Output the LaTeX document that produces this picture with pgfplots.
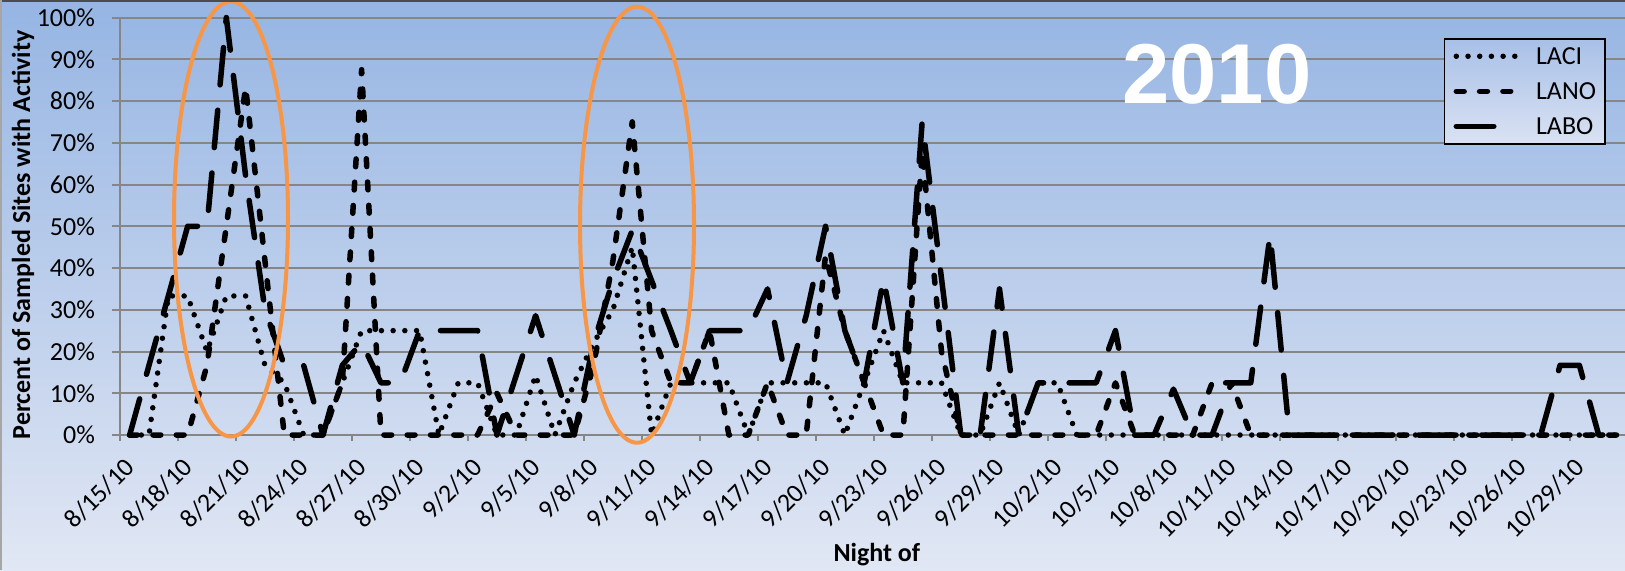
\documentclass[border=0pt]{standalone}
\usepackage{pgfplots}
\usepackage{pgfplotstable}
\pgfplotsset{compat=1.18}
\usepackage{fontspec}
\setmainfont{Carlito}
\newfontfamily\arialfont{Liberation Sans}
\definecolor{bgtop}{RGB}{150,181,227}
\definecolor{bgmid}{RGB}{192,208,236}
\definecolor{bgbot}{RGB}{225,231,244}
\definecolor{gridgray}{RGB}{134,134,134}
\definecolor{ellorange}{RGB}{247,150,70}
\definecolor{legtop}{RGB}{168,192,231}
\definecolor{legbot}{RGB}{218,226,243}

% day index 0 = 8/15/10 ... 77 = 10/31/10 ; values in percent
\pgfplotstableread{
d laci lano labo
0 0 0 0
1 0 0 16.7
2 33.3 0 33.3
3 33.3 0 50
4 20 16.7 50
5 33.3 50 100
6 33.3 83.3 62
7 16.7 41.7 30
8 12.5 0 16.7
9 0 0 16.7
10 0 0 0
11 12.5 12.5 16.7
12 25 87.5 22.2
13 25 0 12.5
14 25 0 12.5
15 25 0 25
16 0 0 25
17 12.5 0 25
18 12.5 0 25
19 0 10 0
20 0 0 14.3
21 14.3 0 28.6
22 0 0 14.3
23 12.5 0 0
24 22 16.7 22
25 30 41.7 37
26 45 75 49
27 0 25 37
28 12.5 12.5 25
29 12.5 12.5 12.5
30 12.5 25 25
31 12.5 0 25
32 0 0 25
33 12.5 12.5 35
34 12.5 0 12.5
35 12.5 0 28.6
36 12.5 43 50
37 0 25 25
38 12.5 12.5 12.5
39 25 0 37.5
40 12.5 0 12.5
41 12.5 68 75
42 12.5 20 37.5
43 0 0 0
44 0 0 0
45 12.5 0 35
46 0 0 0
47 12.5 0 12.5
48 12.5 0 12.5
49 0 0 12.5
50 0 0 12.5
51 0 12.5 25
52 0 0 0
53 0 0 0
54 0 0 11
55 0 0 0
56 0 12.5 0
57 0 12.5 12.5
58 0 0 12.5
59 0 0 48
60 0 0 0
61 0 0 0
62 0 0 0
63 0 0 0
64 0 0 0
65 0 0 0
66 0 0 0
67 0 0 0
68 0 0 0
69 0 0 0
70 0 0 0
71 0 0 0
72 0 0 0
73 0 0 0
74 0 0 16.7
75 0 0 16.7
76 0 0 0
77 0 0 0
}\bats

\begin{document}
\begin{tikzpicture}
\shade[top color=bgtop, middle color=bgmid, bottom color=bgbot] (0,0) rectangle (812.5pt,285pt);
\begin{axis}[
  at={(60pt,67.5pt)}, anchor=south west,
  scale only axis, width=753.85pt, height=208.75pt,
  xmin=-0.5, xmax=77.5, ymin=0, ymax=100,
  clip=false,
  axis lines*=left,
  axis line style={gridgray, line width=1pt},
  ymajorgrids, grid style={gridgray, line width=1pt},
  ytick={0,10,...,100},
  yticklabels={0\%,10\%,20\%,30\%,40\%,50\%,60\%,70\%,80\%,90\%,100\%},
  xtick={0,3,...,75},
  xticklabels={8/15/10,8/18/10,8/21/10,8/24/10,8/27/10,8/30/10,9/2/10,9/5/10,9/8/10,9/11/10,9/14/10,9/17/10,9/20/10,9/23/10,9/26/10,9/29/10,10/2/10,10/5/10,10/8/10,10/11/10,10/14/10,10/17/10,10/20/10,10/23/10,10/26/10,10/29/10},
  minor xtick={-0.5,2.5,...,77.5},
  tick align=outside,
  major tick length=4pt,
  minor tick length=3pt,
  major x tick style={draw=none},
  minor x tick style={gridgray, line width=1pt},
  ytick style={gridgray, line width=1pt},
  /pgf/number format/assume math mode=true,
  tick label style={font=\fontsize{13}{15}\selectfont, text=black},
  yticklabel style={xshift=-5pt},
  xticklabel style={xshift=2.5pt, yshift=-7.5pt, rotate=45, anchor=east},
  xlabel={Night of},
  ylabel={Percent of Sampled Sites with Activity},
  label style={font=\bfseries\fontsize{13}{15}\selectfont},
  xlabel style={at={(axis description cs:0.502,-0.2874)}, anchor=center},
  ylabel style={at={(axis description cs:-0.0643,0.479)}, anchor=center},
  legend cell align=left,
  legend style={at={(0.878,0.951)}, anchor=north west, draw=black, line width=0.8pt,
    top color=legtop, bottom color=legbot,
    inner xsep=4.5pt, inner ysep=4.5pt, row sep=9pt,
    font=\fontsize{13}{15}\selectfont,
    nodes={inner sep=0pt, text height=8.5pt, text depth=0pt},
    /tikz/every odd column/.append style={column sep=7.5pt}},
  legend image code/.code={\draw[#1] (0pt,0pt) -- (31pt,0pt);},
]
\addplot[black, line width=2.75pt, line cap=round, line join=round, dash pattern=on 0pt off 5.85pt] table[x=d, y=laci] {\bats};
\addlegendentry{LACI}
\addplot[black, line width=2.75pt, line cap=round, line join=round, dash pattern=on 3.9pt off 7.75pt] table[x=d, y=lano] {\bats};
\addlegendentry{LANO}
\addplot[black, line width=2.75pt, line cap=round, line join=round, dash pattern=on 18.75pt off 12.75pt] table[x=d, y=labo] {\bats};
\addlegendentry{LABO}
\end{axis}
\draw[ellorange, line width=2pt] (115.5pt,175.5pt) ellipse [x radius=28.5pt, y radius=108.75pt];
\draw[ellorange, line width=2pt] (318.5pt,172.65pt) ellipse [x radius=28.5pt, y radius=109pt];
\node[anchor=base, inner sep=0pt, text=white, font=\arialfont\bfseries\fontsize{42.5}{42.5}\selectfont] at (608.5pt,233.5pt) {2010};
\draw[line width=2pt, black!70] (0,285pt) -- (812.5pt,285pt);
\draw[line width=1.5pt, gray!70] (0,0) -- (0,285pt);
\pgfresetboundingbox
\useasboundingbox (0,0) rectangle (812.5pt,285pt);
\end{tikzpicture}
\end{document}
